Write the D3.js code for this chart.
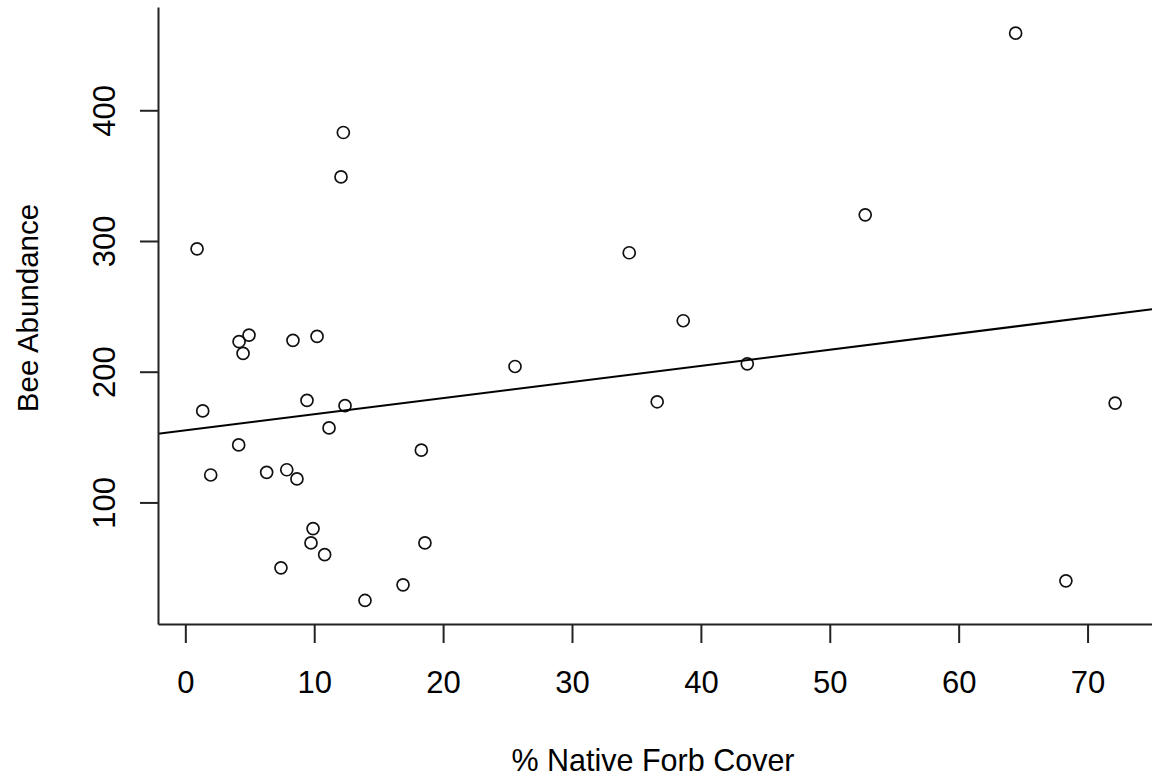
<!DOCTYPE html>
<meta charset="utf-8">
<style>
body { margin: 0; background: #fff; }
text { font-family: "Liberation Sans", Arial, sans-serif; fill: #000; }
.pt { fill: none; stroke: #111; stroke-width: 1.7px; }
.fit { fill: none; stroke: #000; stroke-width: 2px; }
</style>
<body>
<script src="https://d3js.org/d3.v7.min.js"></script>
<script>

// % native forb cover (x) and bee abundance (y)
var forbCover = [12.26, 12.08, 0.91, 4.94, 4.17, 8.35, 10.22, 4.48, 1.35, 9.44,
                 12.39, 11.15, 4.14, 18.31, 1.97, 6.31, 7.87, 8.66, 9.91, 9.75,
                 18.59, 10.81, 7.42, 16.89, 13.94, 25.58, 34.44, 38.63, 36.61, 43.60,
                 52.75, 64.42, 72.14, 68.32];
var beeAbundance = [383, 349, 294, 228, 223, 224, 227, 214, 170, 178,
                    174, 157, 144, 140, 121, 123, 125, 118, 80, 69,
                    69, 60, 50, 37, 25, 204, 291, 239, 177, 206,
                    320, 459, 176, 40];

var xTicks = [0, 10, 20, 30, 40, 50, 60, 70];
var yTicks = [100, 200, 300, 400];

// axis limits (R pads the data range a little)
var xLim = [-2.12, 75.0];
var yLim = [7, 479];

var W = 1152, H = 780;
var plot = {left: 158, right: 1152, top: 7, bottom: 624};

var svg = d3.select("body").append("svg")
    .attr("width", W)
    .attr("height", H);

var x = d3.scaleLinear().domain(xLim).range([plot.left, plot.right]);
var y = d3.scaleLinear().domain(yLim).range([plot.bottom, plot.top]);

var data = forbCover.map(function(d, i) { return {x: d, y: beeAbundance[i]}; });

// least squares fit, like abline(lm(y ~ x))
var mx = d3.mean(data, function(d) { return d.x; });
var my = d3.mean(data, function(d) { return d.y; });
var sxy = d3.sum(data, function(d) { return (d.x - mx) * (d.y - my); });
var sxx = d3.sum(data, function(d) { return (d.x - mx) * (d.x - mx); });
var slope = sxy / sxx;
var intercept = my - slope * mx;

svg.append("clipPath").attr("id", "clip")
  .append("rect")
    .attr("x", plot.left).attr("y", plot.top)
    .attr("width", plot.right - plot.left)
    .attr("height", plot.bottom - plot.top);

// the points
svg.append("g").selectAll("circle")
    .data(data)
  .enter().append("circle")
    .attr("class", "pt")
    .attr("cx", function(d) { return x(d.x); })
    .attr("cy", function(d) { return y(d.y); })
    .attr("r", 6);

// regression line across the plot region
var line = d3.line()
    .x(function(d) { return x(d); })
    .y(function(d) { return y(intercept + slope * d); });

svg.append("path")
    .datum(xLim)
    .attr("class", "fit")
    .attr("clip-path", "url(#clip)")
    .attr("d", line);

// x axis
var gx = svg.append("g")
    .attr("transform", "translate(0," + plot.bottom + ")")
    .call(d3.axisBottom(x).tickValues(xTicks).tickSize(19).tickSizeOuter(0));

gx.selectAll("text")
    .attr("y", 69)
    .attr("dy", null)
    .style("font-size", "31px");

// y axis, labels turned like R does
var gy = svg.append("g")
    .attr("transform", "translate(" + plot.left + ",0)")
    .call(d3.axisLeft(y).tickValues(yTicks).tickSize(18).tickSizeOuter(0));

gy.selectAll("text")
    .attr("x", null)
    .attr("dy", null)
    .attr("text-anchor", "middle")
    .attr("transform", "translate(-43,0) rotate(-90)")
    .style("font-size", "31px");

svg.selectAll(".domain, .tick line")
    .attr("stroke", "#222")
    .attr("stroke-width", 2);
svg.selectAll(".tick text").attr("fill", "#000").attr("font-family", null);

// axis titles
svg.append("text")
    .attr("x", (plot.left + plot.right) / 2 - 2)
    .attr("y", 771)
    .attr("text-anchor", "middle")
    .style("font-size", "30.5px")
    .text("% Native Forb Cover");

svg.append("text")
    .attr("transform", "translate(38,308) rotate(-90)")
    .attr("text-anchor", "middle")
    .style("font-size", "29.5px")
    .text("Bee Abundance");

</script>
</body>
